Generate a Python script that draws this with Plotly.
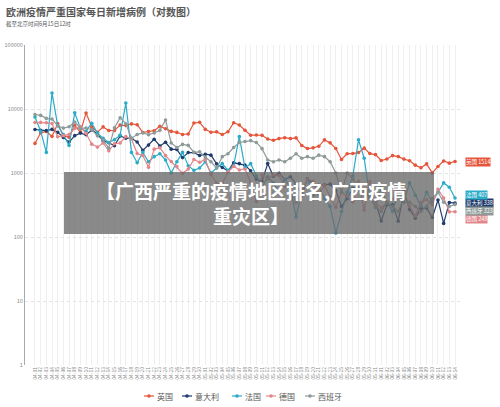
import plotly.graph_objects as go
import pandas as pd

dates = [d.strftime("%m-%d") for d in pd.date_range("2020-04-01", "2020-06-14")]

uk = [2900, 4244, 4450, 3735, 5903, 3802, 3634, 5491, 4344, 8681,
      5233, 4342, 5252, 4605, 4617, 5599, 5525, 5850, 5676, 4301,
      4451, 4583, 5386, 4913, 4463, 4309, 3996, 4076, 6032, 6201,
      4806, 4339, 4395, 3985, 4406, 6111, 5614, 4649, 3896, 3923,
      3877, 3403, 3242, 3446, 3560, 3450, 3534, 2684, 2412, 2472,
      2615, 3287, 2959, 2409, 1625, 2004, 2013, 2095, 2445, 2012, 1936,
      1570, 1653, 1871, 1805, 1650, 1557, 1326, 1205, 1387, 1003, 1266, 1541, 1425, 1514]
italy = [4782, 4668, 4585, 4805, 4316, 3599, 3039, 3836, 4204, 3951,
         4694, 4092, 3153, 2972, 2667, 3786, 3493, 3491, 3047, 2256,
         2729, 3370, 2646, 3021, 2357, 2324, 1739, 2091, 2086, 1872,
         1965, 1900, 1389, 1221, 1075, 1444, 1401, 1327, 1083, 802,
         744, 1402, 888, 992, 789, 875, 675, 451, 813, 665,
         642, 652, 669, 531, 300, 397, 584, 593, 516, 416, 355,
         178, 318, 321, 177, 518, 270, 197, 280, 283, 202, 379, 163, 346, 338]
france = [7500, 4500, 2100, 17800, 5500, 4000, 2700, 8700, 5000, 4500,
          6000, 4200, 3500, 3000, 3300, 3900, 12400, 2100, 1450, 2100,
          1500, 1800, 2000, 1600, 1000, 1500, 2100, 1300, 1100, 1200,
          1500, 1000, 1200, 1400, 1100, 1300, 3700, 1200, 1400, 900,
          600, 870, 700, 500, 800, 600, 205, 500, 800, 450,
          600, 400, 300, 115, 250, 500, 900, 3300, 1700, 420, 290,
          600, 350, 250, 500, 350, 700, 450, 300, 500, 350, 500, 700, 600, 407]
germany = [6156, 6174, 6082, 5936, 3677, 3834, 4003, 4974, 5323, 4133,
           2821, 2537, 2946, 2218, 2866, 2945, 3699, 3400, 2018, 1881,
           1226, 2357, 2481, 1870, 1514, 1257, 988, 1154, 1627, 1470,
           1639, 945, 697, 685, 1037, 1273, 1116, 1157, 704, 357,
           933, 798, 933, 913, 620, 583, 342, 513, 797, 745,
           460, 638, 431, 289, 497, 432, 353, 741, 264, 738, 342,
           286, 342, 394, 507, 406, 301, 214, 350, 385, 318, 555, 407, 247, 248]
spain = [8195, 7947, 7134, 6969, 5478, 5029, 5267, 6278, 5002, 5051,
         4754, 3804, 3268, 2442, 5103, 7304, 5891, 3500, 4000, 4218,
         3968, 4211, 4635, 6740, 2944, 2500, 2800, 2700, 2100, 2144,
         1781, 1500, 1200, 1800, 2000, 2500, 3000, 3100, 3200, 3000,
         2400, 1600, 1500, 1600, 1500, 1700, 2000, 1700, 1800, 1700,
         1900, 1800, 1500, 1000, 500, 1000, 800, 600, 500, 400, 300,
         250, 350, 300, 250, 400, 350, 300, 250, 300, 400, 500, 350, 300, 323]

names = ["英国", "意大利", "法国", "德国", "西班牙"]
series = [uk, italy, france, germany, spain]
colors = ["#e5553a", "#1f3b6c", "#2aabc8", "#e3868a", "#8e9a98"]
tag_y_px = [162, 203, 195, 219, 211]
legend_x_px = [149, 187, 237, 271, 310]

FONT = "Noto Sans CJK SC"
L, R, T, B = 25, 40, 45, 42
W, H = 500, 407
pw, ph = W - L - R, H - T - B

def px_x(px):
    return (px - L) / pw

def px_y(py):
    return (H - B - py) / ph

fig = go.Figure()
for name, vals, col in zip(names, series, colors):
    fig.add_trace(go.Scatter(
        x=dates, y=vals, name=name, mode="lines+markers",
        line=dict(color=col, width=1.2),
        marker=dict(color=col, size=3.6),
        showlegend=False,
    ))

annotations = [
    dict(text="<b>欧洲疫情严重国家每日新增病例（对数图）</b>", xref="paper", yref="paper",
         x=px_x(4), y=px_y(11), xanchor="left", yanchor="middle", showarrow=False,
         font=dict(size=10, color="#555555", family=FONT)),
    dict(text="截至北京时间6月15日12时", xref="paper", yref="paper",
         x=px_x(4), y=px_y(24), xanchor="left", yanchor="middle", showarrow=False,
         font=dict(size=5.5, color="#555555", family=FONT)),
]
shapes = []
for name, vals, col, ty, lx in zip(names, series, colors, tag_y_px, legend_x_px):
    annotations.append(dict(
        text=f"{name} {vals[-1]}", xref="paper", yref="paper",
        x=px_x(465), y=px_y(ty), xanchor="left", yanchor="middle", showarrow=False,
        font=dict(size=5.5, color="white", family=FONT), bgcolor=col, borderpad=0))
    shapes.append(dict(type="line", xref="paper", yref="paper",
                       x0=px_x(lx - 5), x1=px_x(lx + 5), y0=px_y(396), y1=px_y(396),
                       line=dict(color=col, width=1.2)))
    shapes.append(dict(type="circle", xref="paper", yref="paper",
                       x0=px_x(lx - 1.8), x1=px_x(lx + 1.8), y0=px_y(397.8), y1=px_y(394.2),
                       fillcolor=col, line=dict(color=col, width=0)))
    annotations.append(dict(
        text=name, xref="paper", yref="paper", x=px_x(lx + 6), y=px_y(396),
        xanchor="left", yanchor="middle", showarrow=False,
        font=dict(size=8, color="#555555", family=FONT)))

shapes.append(dict(type="rect", xref="paper", yref="paper",
                   x0=px_x(64), x1=px_x(434), y0=px_y(234), y1=px_y(172),
                   fillcolor="rgba(105,105,105,0.78)", line=dict(width=0), layer="above"))
annotations.append(dict(
    text="<b>【广西严重的疫情地区排名,广西疫情<br>重灾区】</b>", xref="paper", yref="paper",
    x=px_x(251), y=px_y(203), xanchor="center", yanchor="middle", showarrow=False,
    font=dict(size=19, color="white", family=FONT), align="center"))

fig.update_layout(
    width=W, height=H, margin=dict(l=L, r=R, t=T, b=B, autoexpand=False),
    paper_bgcolor="white", plot_bgcolor="white",
    annotations=annotations, shapes=shapes,
    font=dict(family=FONT),
)
fig.update_xaxes(
    type="category", range=[-1.76, 74.88], tickmode="array",
    tickvals=dates, ticktext=dates, tickangle=-90,
    tickfont=dict(size=5, color="#888888"),
    showgrid=True, gridcolor="#efefef", gridwidth=1,
    showline=False, zeroline=False, ticks="", automargin=False,
)
fig.update_yaxes(
    type="log", range=[0, 5], tickvals=[1, 10, 100, 1000, 10000, 100000],
    ticktext=["1", "10", "100", "1000", "10000", "100000"],
    tickfont=dict(size=5.5, color="#888888"),
    showgrid=True, gridcolor="#e3e3e3", griddash="dot",
    showline=True, linecolor="#aaaaaa", linewidth=1, zeroline=False, ticks="",
    automargin=False,
)
fig.write_html("out.html", config={"displayModeBar": False},
               post_script="document.body.style.margin='0';document.body.style.overflow='hidden';")
